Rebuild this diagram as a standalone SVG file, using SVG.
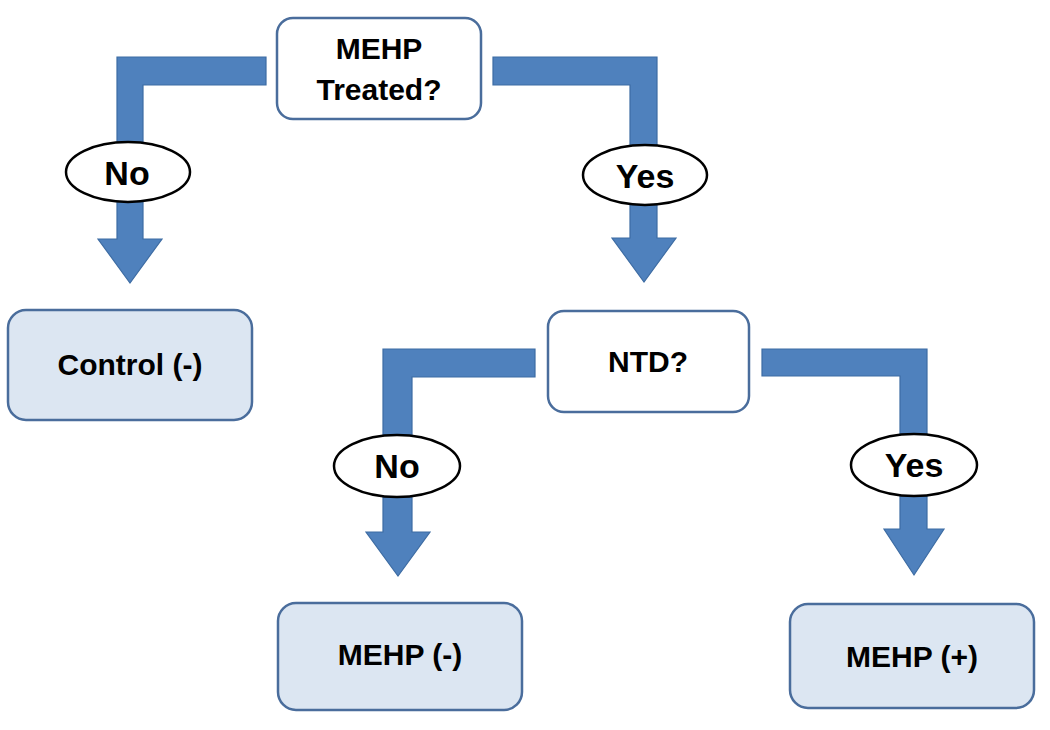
<svg xmlns="http://www.w3.org/2000/svg" width="1050" height="730" viewBox="0 0 1050 730">
<style>
.dec{fill:#ffffff;stroke:#4a6d9c;stroke-width:2.5}
.res{fill:#dce6f2;stroke:#4a6d9c;stroke-width:2.5}
.arr{fill:#4f81bd;stroke:#3d6ca3;stroke-width:1.2}
.lbl{fill:#ffffff;stroke:#000000;stroke-width:2.5}
.t{font-family:"Liberation Sans",Arial,sans-serif;font-weight:bold;font-size:30px;fill:#000;text-anchor:middle}
.tl{font-family:"Liberation Sans",Arial,sans-serif;font-weight:bold;font-size:34px;fill:#000;text-anchor:middle}
</style>
<rect width="1050" height="730" fill="#ffffff"/>
<g id="connectors">
<path class="arr" d="M266,57 L117,57 L117,239 L98,239 L130,283 L162,239 L143,239 L143,85 L266,85 Z"/>
<path class="arr" d="M493,57 L657,57 L657,238 L676,238 L644,282 L612,238 L630,238 L630,85 L493,85 Z"/>
<path class="arr" d="M535,349 L383,349 L383,532 L366,532 L398,576 L430,532 L412,532 L412,377 L535,377 Z"/>
<path class="arr" d="M762,349 L927,349 L927,529 L944,529 L914,575 L884,529 L900,529 L900,376 L762,376 Z"/>
<g id="label-no-1"><ellipse class="lbl" cx="128" cy="172" rx="62" ry="30"/><text class="tl" x="127" y="185">No</text></g>
<g id="label-yes-1"><ellipse class="lbl" cx="645" cy="175" rx="62" ry="30"/><text class="tl" x="645" y="188">Yes</text></g>
<g id="label-no-2"><ellipse class="lbl" cx="397" cy="466" rx="63" ry="31"/><text class="tl" x="397" y="478">No</text></g>
<g id="label-yes-2"><ellipse class="lbl" cx="914" cy="465" rx="63" ry="31"/><text class="tl" x="914" y="477">Yes</text></g>
</g>
<g id="mehp-treated"><rect class="dec" x="277" y="18" width="204" height="101" rx="16"/><text class="t" x="379" y="59">MEHP</text><text class="t" x="379" y="100">Treated?</text></g>
<g id="control"><rect class="res" x="8" y="310" width="244" height="110" rx="18"/><text class="t" x="130" y="375">Control (-)</text></g>
<g id="ntd"><rect class="dec" x="548" y="311" width="201" height="101" rx="16"/><text class="t" x="648" y="372">NTD?</text></g>
<g id="mehp-neg"><rect class="res" x="278" y="603" width="244" height="107" rx="18"/><text class="t" x="400" y="665">MEHP (-)</text></g>
<g id="mehp-pos"><rect class="res" x="790" y="604" width="244" height="104" rx="18"/><text class="t" x="912" y="667">MEHP (+)</text></g>
</svg>
